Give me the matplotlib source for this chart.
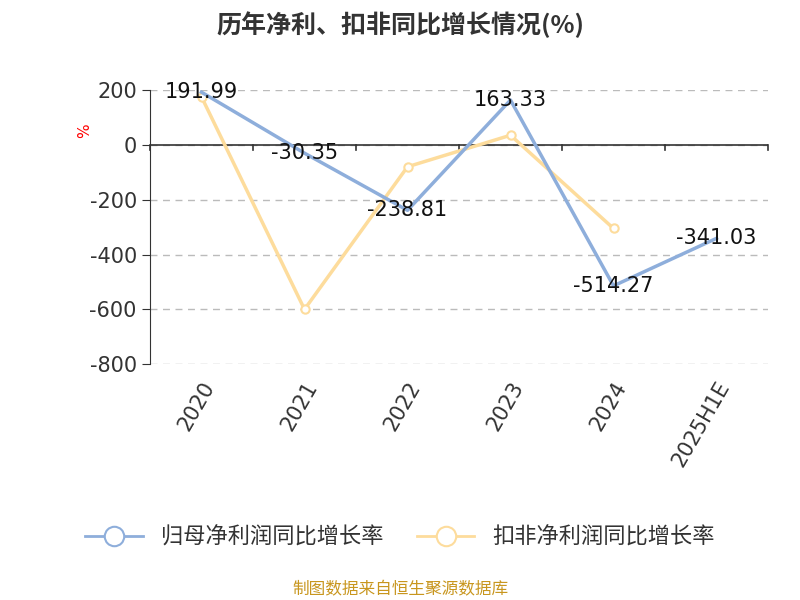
import matplotlib
matplotlib.use("Agg")
import matplotlib.pyplot as plt
from matplotlib.lines import Line2D

plt.rcParams['font.family'] = ['DejaVu Sans', 'Noto Sans CJK SC']

categories = ['2020', '2021', '2022', '2023', '2024', '2025H1E']
net_profit = [191.99, -30.35, -238.81, 163.33, -514.27, -341.03]
deducted = [175, -600, -80, 35, -305]
yticks = [200, 0, -200, -400, -600, -800]

fig = plt.figure(figsize=(8, 6), dpi=100)
ax = fig.add_axes([0.1875, 0.393, 0.7725, 0.457])
x = list(range(len(categories)))
blue = '#8eaedb'
orange = '#fddc9c'
ax.plot(x, net_profit, color=blue, lw=2.5, zorder=3)
ax.plot(x[:len(deducted)], deducted, color=orange, lw=2.5, marker='o', ms=6,
        mfc='white', mec=orange, mew=1.5, zorder=2)
for xi, v in zip(x, net_profit):
    ax.text(xi, v, f'{v:.2f}', ha='center', va='center', fontsize=15, color='#111111', zorder=5)

ax.set_xlim(-0.5, len(categories) - 0.5)
ax.set_ylim(-800, 200)
ax.set_yticks(yticks)
ax.set_yticklabels([str(t) for t in yticks], fontsize=15, color='#333333')
for t in yticks:
    ax.axhline(t, color='#bbbbbb', ls=(0, (5, 4)), lw=1, zorder=0)
ax.axhline(0, color='#333333', lw=1.2, zorder=1)
for b in [i - 0.5 for i in range(len(categories) + 1)]:
    ax.plot([b, b], [0, -20], color='#333333', lw=1.2, clip_on=False, zorder=1)
for s in ['top', 'right', 'bottom']:
    ax.spines[s].set_visible(False)
ax.spines['left'].set_color('#333333')
ax.tick_params(axis='y', length=6, color='#333333')
ax.set_xticks(x)
ax.set_xticklabels(categories, rotation=60, fontsize=15, color='#333333', ha='right', rotation_mode='anchor')
ax.tick_params(axis='x', length=0, pad=10)
ax.text(-0.105, 0.85, '%', transform=ax.transAxes, color='red', fontsize=11, rotation=90, ha='center', va='center')

fig.text(0.5, 0.958, '历年净利、扣非同比增长情况(%)', ha='center', va='center', fontsize=18, fontweight='bold', color='#333333',
         family=['Noto Sans CJK SC', 'DejaVu Sans'])
handles = [Line2D([0], [0], color=blue, lw=2, marker='o', ms=14, mfc='white', mec=blue, mew=1.5),
           Line2D([0], [0], color=orange, lw=2, marker='o', ms=14, mfc='white', mec=orange, mew=1.5)]
fig.legend(handles, ['归母净利润同比增长率', '扣非净利润同比增长率'], loc='center', bbox_to_anchor=(0.5, 0.105),
           ncol=2, frameon=False, handlelength=2.6, columnspacing=1.5, labelcolor='#333333',
           prop={'family': ['Noto Sans CJK SC', 'DejaVu Sans'], 'size': 16})
fig.text(0.5, 0.017, '制图数据来自恒生聚源数据库', ha='center', va='center', fontsize=12, color='#c8961e',
         family=['Noto Sans CJK SC', 'DejaVu Sans'])
fig.savefig('out.png')
